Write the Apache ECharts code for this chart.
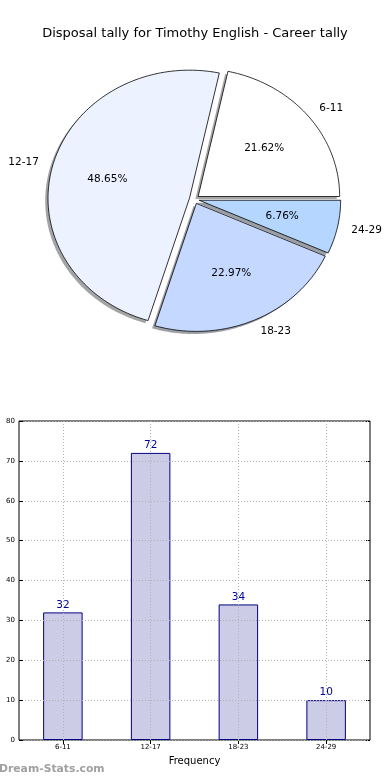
<!DOCTYPE html>
<html>
<head>
<meta charset="utf-8">
<script src="https://cdn.jsdelivr.net/npm/echarts@6/dist/echarts.min.js"></script>
<style>
html,body{margin:0;padding:0;background:#fff;}
#chart{width:390px;height:780px;}
</style>
</head>
<body>
<div id="chart"></div>
<script>
const categories = ['6-11', '12-17', '18-23', '24-29'];
const counts = [32, 72, 34, 10];
const pieColors = ['#FFFFFF', '#ECF2FF', '#C5D8FF', '#B4D6FF'];
const yTickMin = 0, yTickMax = 80, yTickStep = 10;

const FONT = 'DejaVu Sans';
const total = counts.reduce((a, b) => a + b, 0);
// pie ellipse geometry (layout)
const P = { cx: 194.3, cy: 199.3, rx: 141.5, ry: 128, explode: 0.035, shadowDx: -2.8, shadowDy: 2.6 };

function wedge(i) {
  let start = 0;
  for (let j = 0; j < i; j++) start += counts[j];
  const a1 = start / total * 2 * Math.PI;
  const a2 = (start + counts[i]) / total * 2 * Math.PI;
  const am = (a1 + a2) / 2;
  const ox = P.cx + P.explode * P.rx * Math.cos(am);
  const oy = P.cy - P.explode * P.ry * Math.sin(am);
  const pts = [[ox, oy]];
  const n = Math.max(8, Math.ceil((a2 - a1) / (Math.PI / 180)));
  for (let k = 0; k <= n; k++) {
    const a = a1 + (a2 - a1) * k / n;
    pts.push([ox + P.rx * Math.cos(a), oy - P.ry * Math.sin(a)]);
  }
  return { pts, am, ox, oy };
}

function darken(hex) {
  const r = parseInt(hex.substr(1, 2), 16) * 0.3;
  const g = parseInt(hex.substr(3, 2), 16) * 0.3;
  const b = parseInt(hex.substr(5, 2), 16) * 0.3;
  return 'rgba(' + Math.round(r) + ',' + Math.round(g) + ',' + Math.round(b) + ',0.5)';
}

const pieData = counts.map((v, i) => ({ value: v, name: categories[i] }));

const chart = echarts.init(document.getElementById('chart'), null, { renderer: 'canvas' });
chart.setOption({
  animation: false,
  backgroundColor: '#fff',
  textStyle: { fontFamily: FONT },
  title: {
    text: 'Disposal tally for Timothy English - Career tally',
    left: 'center', top: 22,
    textStyle: { fontFamily: FONT, fontSize: 13, fontWeight: 'normal', color: '#000' }
  },
  graphic: [{
    type: 'text', left: -1, top: 764,
    style: { text: 'Dream-Stats.com', fill: '#a0a0a0', font: 'bold 10.8px "DejaVu Sans"' }
  }],
  grid: {
    left: 19, right: 20, top: 421, bottom: 40,
    show: true, borderColor: '#000', borderWidth: 1, backgroundColor: 'transparent'
  },
  xAxis: [{
    type: 'category', data: categories,
    axisLine: { show: false },
    axisTick: { show: true, inside: true, alignWithLabel: true, length: 4, lineStyle: { color: '#000' } },
    axisLabel: { fontSize: 7, color: '#000', margin: 4, fontFamily: FONT },
    splitLine: { show: false },
    name: 'Frequency', nameLocation: 'middle', nameGap: 16,
    nameTextStyle: { fontSize: 10, color: '#000', fontFamily: FONT }
  }, {
    type: 'category', data: categories, position: 'top',
    axisLine: { show: false },
    axisTick: { show: true, inside: true, alignWithLabel: true, length: 4, lineStyle: { color: '#000' } },
    axisLabel: { show: false }, splitLine: { show: false }
  }],
  yAxis: [{
    type: 'value', min: yTickMin, max: yTickMax, interval: yTickStep, z: 3,
    axisLine: { show: false },
    axisTick: { show: true, inside: true, length: 4, lineStyle: { color: '#000' } },
    axisLabel: { fontSize: 7, color: '#000', margin: 4, fontFamily: FONT },
    splitLine: { show: true, lineStyle: { color: '#b0b0b0', type: [1, 2], width: 1 } }
  }, {
    type: 'value', min: yTickMin, max: yTickMax, interval: yTickStep, position: 'right',
    axisLine: { show: false },
    axisTick: { show: true, inside: true, length: 4, lineStyle: { color: '#000' } },
    axisLabel: { show: false }, splitLine: { show: false }
  }],
  series: [{
    type: 'custom', coordinateSystem: 'none', z: 1, silent: true,
    data: pieData,
    renderItem: function (params, api) {
      const w = wedge(params.dataIndex);
      return {
        type: 'polygon',
        shape: { points: w.pts.map(p => [p[0] + P.shadowDx, p[1] + P.shadowDy]) },
        style: { fill: darken(pieColors[params.dataIndex]), stroke: null }
      };
    }
  }, {
    type: 'custom', coordinateSystem: 'none', z: 2, silent: true,
    data: pieData,
    renderItem: function (params, api) {
      const i = params.dataIndex;
      const w = wedge(i);
      const c = Math.cos(w.am), s = Math.sin(w.am);
      const pct = (counts[i] / total * 100).toFixed(2) + '%';
      return {
        type: 'group',
        children: [{
          type: 'polygon',
          shape: { points: w.pts },
          style: { fill: pieColors[i], stroke: '#000', lineWidth: 0.8 }
        }, {
          type: 'text',
          x: w.ox + 0.6 * P.rx * c, y: w.oy - 0.6 * P.ry * s,
          style: { text: pct, fill: '#000', font: '10.5px "DejaVu Sans"', align: 'center', verticalAlign: 'middle' }
        }, {
          type: 'text',
          x: w.ox + 1.1 * P.rx * c, y: w.oy - 1.1 * P.ry * s,
          style: { text: categories[i], fill: '#000', font: '10.5px "DejaVu Sans"', align: c > 0 ? 'left' : 'right', verticalAlign: 'middle' }
        }]
      };
    }
  }, {
    type: 'bar', xAxisIndex: 0, yAxisIndex: 0,
    data: counts, barWidth: '45%',
    itemStyle: { color: '#CCCCE6', borderColor: '#000080', borderWidth: 1 },
    label: { show: true, position: 'top', distance: 2, color: '#000099', fontSize: 10.5, fontFamily: FONT },
    markLine: {
      silent: true, symbol: 'none', label: { show: false },
      lineStyle: { color: '#b0b0b0', type: [1, 2], width: 1 },
      data: categories.map(c => ({ xAxis: c }))
    }
  }]
});
</script>
</body>
</html>
